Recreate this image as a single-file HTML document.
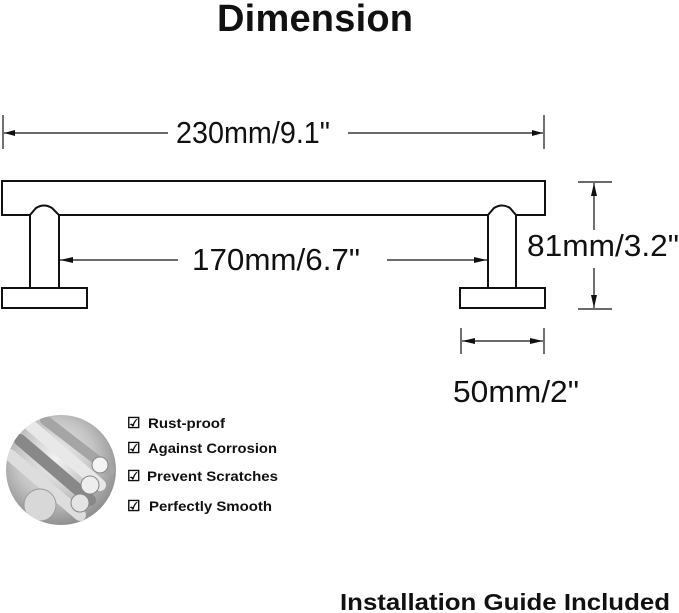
<!DOCTYPE html>
<html><head><meta charset="utf-8"><style>
html,body{margin:0;padding:0;background:#fff;width:679px;height:613px;overflow:hidden}
svg{display:block}
</style></head><body>
<svg width="679" height="613" viewBox="0 0 679 613" xmlns="http://www.w3.org/2000/svg">
<defs>
<radialGradient id="g" cx="45%" cy="40%" r="60%">
<stop offset="0" stop-color="#f2f2f2"/><stop offset="0.6" stop-color="#c4c4c4"/><stop offset="1" stop-color="#909090"/>
</radialGradient>
<clipPath id="c"><circle cx="61" cy="470" r="55"/></clipPath>
</defs>
<text x="315" y="31" font-family="Liberation Sans, sans-serif" font-weight="bold" font-size="38" text-anchor="middle" textLength="196" fill="#111">Dimension</text>

<g stroke="#111" fill="none" stroke-width="1.2">
<line x1="3" y1="115" x2="3" y2="149"/><line x1="544" y1="115" x2="544" y2="149"/>
<line x1="4" y1="133" x2="168" y2="133"/><line x1="348" y1="133" x2="543" y2="133"/>
<line x1="60" y1="260" x2="178" y2="260"/><line x1="387" y1="260" x2="487" y2="260"/>
<line x1="578" y1="182" x2="612" y2="182"/><line x1="578" y1="309" x2="612" y2="309"/>
<line x1="594" y1="183" x2="594" y2="230"/><line x1="594" y1="268" x2="594" y2="308"/>
<line x1="461" y1="328" x2="461" y2="354"/><line x1="544" y1="328" x2="544" y2="354"/>
<line x1="462" y1="341" x2="543" y2="341"/>
</g>
<g fill="#111">
<polygon points="4,133 15,130 15,136"/><polygon points="543,133 532,130 532,136"/>
<polygon points="60,260 73,257 73,263"/><polygon points="487,260 474,257 474,263"/>
<polygon points="594,183 591,196 597,196"/><polygon points="594,308 591,295 597,295"/>
<polygon points="462,341 475,338 475,344"/><polygon points="543,341 530,338 530,344"/>
</g>

<g stroke="#111" fill="#fff" stroke-width="2">
<rect x="2" y="181" width="543" height="34"/>
<path d="M30,288 L30,215 L36,208 Q44,203 52,208 L59,215 L59,288"/>
<path d="M488,288 L488,215 L494,208 Q502,203 510,208 L516,215 L516,288"/>
<rect x="2" y="288" width="85" height="20"/>
<rect x="460" y="288" width="85" height="20"/>
</g>

<g font-family="Liberation Sans, sans-serif" font-size="31" fill="#111" lengthAdjust="spacingAndGlyphs">
<text x="176" y="143" textLength="154" lengthAdjust="spacingAndGlyphs">230mm/9.1"</text>
<text x="192" y="270" textLength="168" lengthAdjust="spacingAndGlyphs">170mm/6.7"</text>
<text x="527" y="256" textLength="152" lengthAdjust="spacingAndGlyphs">81mm/3.2"</text>
<text x="453" y="402" textLength="126" lengthAdjust="spacingAndGlyphs">50mm/2"</text>
</g>

<circle cx="61" cy="470" r="55" fill="url(#g)"/>
<g clip-path="url(#c)" stroke-linecap="round">
<line x1="20" y1="440" x2="90" y2="500" stroke="#888" stroke-width="12"/>
<line x1="30" y1="425" x2="100" y2="485" stroke="#e8e8e8" stroke-width="12"/>
<line x1="45" y1="420" x2="110" y2="470" stroke="#a5a5a5" stroke-width="10"/>
<line x1="10" y1="455" x2="80" y2="515" stroke="#ddd" stroke-width="12"/>
<circle cx="90" cy="485" r="9" fill="#eee" stroke="#888"/>
<circle cx="100" cy="465" r="8" fill="#f4f4f4" stroke="#888"/>
<circle cx="80" cy="503" r="9" fill="#e4e4e4" stroke="#888"/>
<circle cx="40" cy="505" r="16" fill="#d8d8d8" stroke="#999"/>
</g>

<g font-family="Liberation Sans, sans-serif" font-weight="bold" font-size="14" fill="#111">
<text x="127" y="428" font-size="15">☑</text><text x="148" y="428" textLength="77" lengthAdjust="spacingAndGlyphs">Rust-proof</text>
<text x="127" y="453" font-size="15">☑</text><text x="148" y="453" textLength="129" lengthAdjust="spacingAndGlyphs">Against Corrosion</text>
<text x="127" y="481" font-size="15">☑</text><text x="147" y="481" textLength="131" lengthAdjust="spacingAndGlyphs">Prevent Scratches</text>
<text x="127" y="511" font-size="15">☑</text><text x="149" y="511" textLength="123" lengthAdjust="spacingAndGlyphs">Perfectly Smooth</text>
</g>

<text x="340" y="610" font-family="Liberation Sans, sans-serif" font-weight="bold" font-size="23" textLength="330" lengthAdjust="spacingAndGlyphs" fill="#111">Installation Guide Included</text>
</svg>
</body></html>
